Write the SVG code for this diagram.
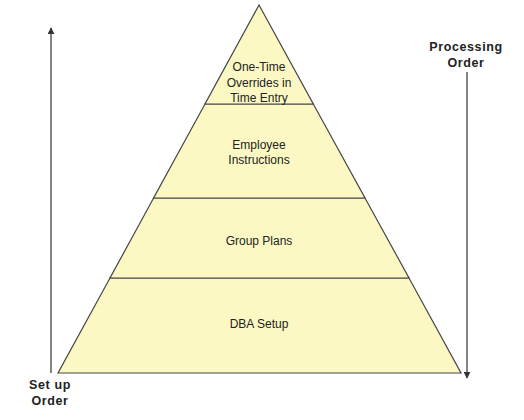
<svg xmlns="http://www.w3.org/2000/svg" width="524" height="420" viewBox="0 0 524 420">
<defs>
<style>
.sec{fill:#fcf8c4;stroke:#444;stroke-width:1.2}
.t{font-family:"Liberation Sans",Arial,sans-serif;font-size:12px;fill:#222;text-anchor:middle}
.b{font-family:"Liberation Sans",Arial,sans-serif;font-size:12.5px;font-weight:bold;letter-spacing:0.6px;fill:#222;text-anchor:middle}
.ax{stroke:#333;stroke-width:1.2;fill:none}
</style>
<marker id="ah" viewBox="0 0 10 10" refX="9" refY="5" markerWidth="7" markerHeight="7" orient="auto" markerUnits="userSpaceOnUse">
<path d="M0,0 L10,5 L0,10 z" fill="#333"/>
</marker>
</defs>
<rect width="524" height="420" fill="#fff"/>
<g id="dba">
<polygon class="sec" points="110,278 409,278 461,373 58,373"/>
<text class="t" x="259" y="328">DBA Setup</text>
</g>
<g id="group">
<polygon class="sec" points="153.6,198 365,198 409,278 110,278"/>
<text class="t" x="259" y="245">Group Plans</text>
</g>
<g id="employee">
<polygon class="sec" points="205,104 313.3,104 365,198 153.6,198"/>
<text class="t" x="259" y="149">Employee</text>
<text class="t" x="259" y="164">Instructions</text>
</g>
<g id="onetime">
<polygon class="sec" points="259,5 313.3,104 205,104"/>
<text class="t" x="259" y="71">One-Time</text>
<text class="t" x="259" y="87">Overrides in</text>
<text class="t" x="259" y="102">Time Entry</text>
</g>
<g id="connectors">
<line class="ax" x1="51" y1="373" x2="51" y2="28" marker-end="url(#ah)"/>
<line class="ax" x1="467" y1="72" x2="467" y2="378" marker-end="url(#ah)"/>
</g>
<g id="labels">
<text class="b" x="50" y="389">Set up</text>
<text class="b" x="50" y="405">Order</text>
<text class="b" x="466" y="51">Processing</text>
<text class="b" x="466" y="67">Order</text>
</g>
</svg>
